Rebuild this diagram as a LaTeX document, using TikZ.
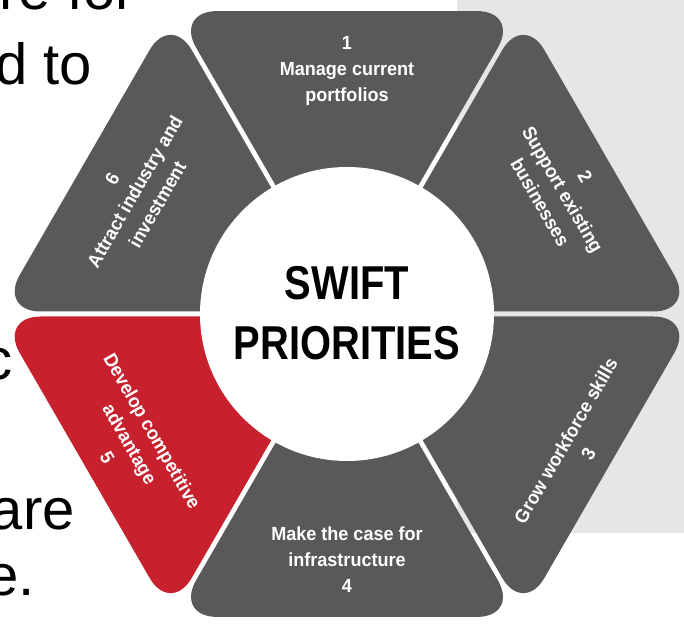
\documentclass[tikz,border=0pt]{standalone}
\usepackage{fontspec}
\setmainfont{Liberation Sans}
\newfontfamily\segfont[FakeStretch=0.95]{Liberation Sans}
\newfontfamily\titlefont[FakeStretch=0.84]{Liberation Sans}
\newfontfamily\bodyfont{Liberation Sans}
\usetikzlibrary{calc}
\definecolor{seggray}{RGB}{89,89,91}
\definecolor{segred}{RGB}{200,33,46}
\definecolor{panelgray}{RGB}{230,230,230}
\tikzset{
  segshape/.style={fill=#1, rounded corners=42pt},
  segtext/.style={text=white, align=center, inner sep=0pt,
    font=\segfont\bfseries\fontsize{19}{26}\selectfont},
  bodytext/.style={anchor=base east, inner sep=0pt, text=black,
    font=\bodyfont\fontsize{58}{60}\selectfont},
}
\newcommand\drawseg[2]{%
  \fill[segshape=#2] ([shift={(#1:5)}]O) -- ++(#1-30:344) -- ++(#1+90:344) -- cycle;}
\begin{document}
\begin{tikzpicture}[x=1pt,y=1pt]
\useasboundingbox (0,0) rectangle (684,631);
\fill[white] (0,0) rectangle (684,631);
\fill[panelgray] (457,98) rectangle (684,631);
% background body text fragments
\node[bodytext] (b1) at (135,621) {ure for};
\node[bodytext] (b2) at (92,546) {d to};
\node[bodytext] (b3) at (13,251) {c};
\node[bodytext] (b4) at (75,101) {are};
\node[bodytext] (b5) at (35,36) {e.};
% hexagon segments
\coordinate (O) at (347,317);
\drawseg{90}{seggray}
\drawseg{30}{seggray}
\drawseg{-30}{seggray}
\drawseg{-90}{seggray}
\drawseg{-150}{segred}
\drawseg{150}{seggray}
% centre circle
\fill[white] (O) circle (147);
\node[align=center, inner sep=0pt,
  font=\titlefont\bfseries\fontsize{47.5}{60}\selectfont] (title) at ($(O)+(0,1)$)
  {SWIFT\\PRIORITIES};
% segment labels
\node[segtext] (s1) at ($(O)+(90:243)$) {1\\Manage current\\portfolios};
\node[segtext, rotate=-60] (s2) at ($(O)+(30:249)$) {2\\Support existing\\businesses};
\node[segtext, rotate=60] (s3) at (577,184) {Grow workforce skills\\3};
\node[segtext] (s4) at ($(O)+(-90:246)$) {Make the case for\\infrastructure\\4};
\node[segtext, rotate=-60] (s5) at (130,187) {Develop competitive\\advantage\\5};
\node[segtext, rotate=60] (s6) at ($(O)+(150:245)$) {6\\Attract industry and\\investment};
\end{tikzpicture}
\end{document}
